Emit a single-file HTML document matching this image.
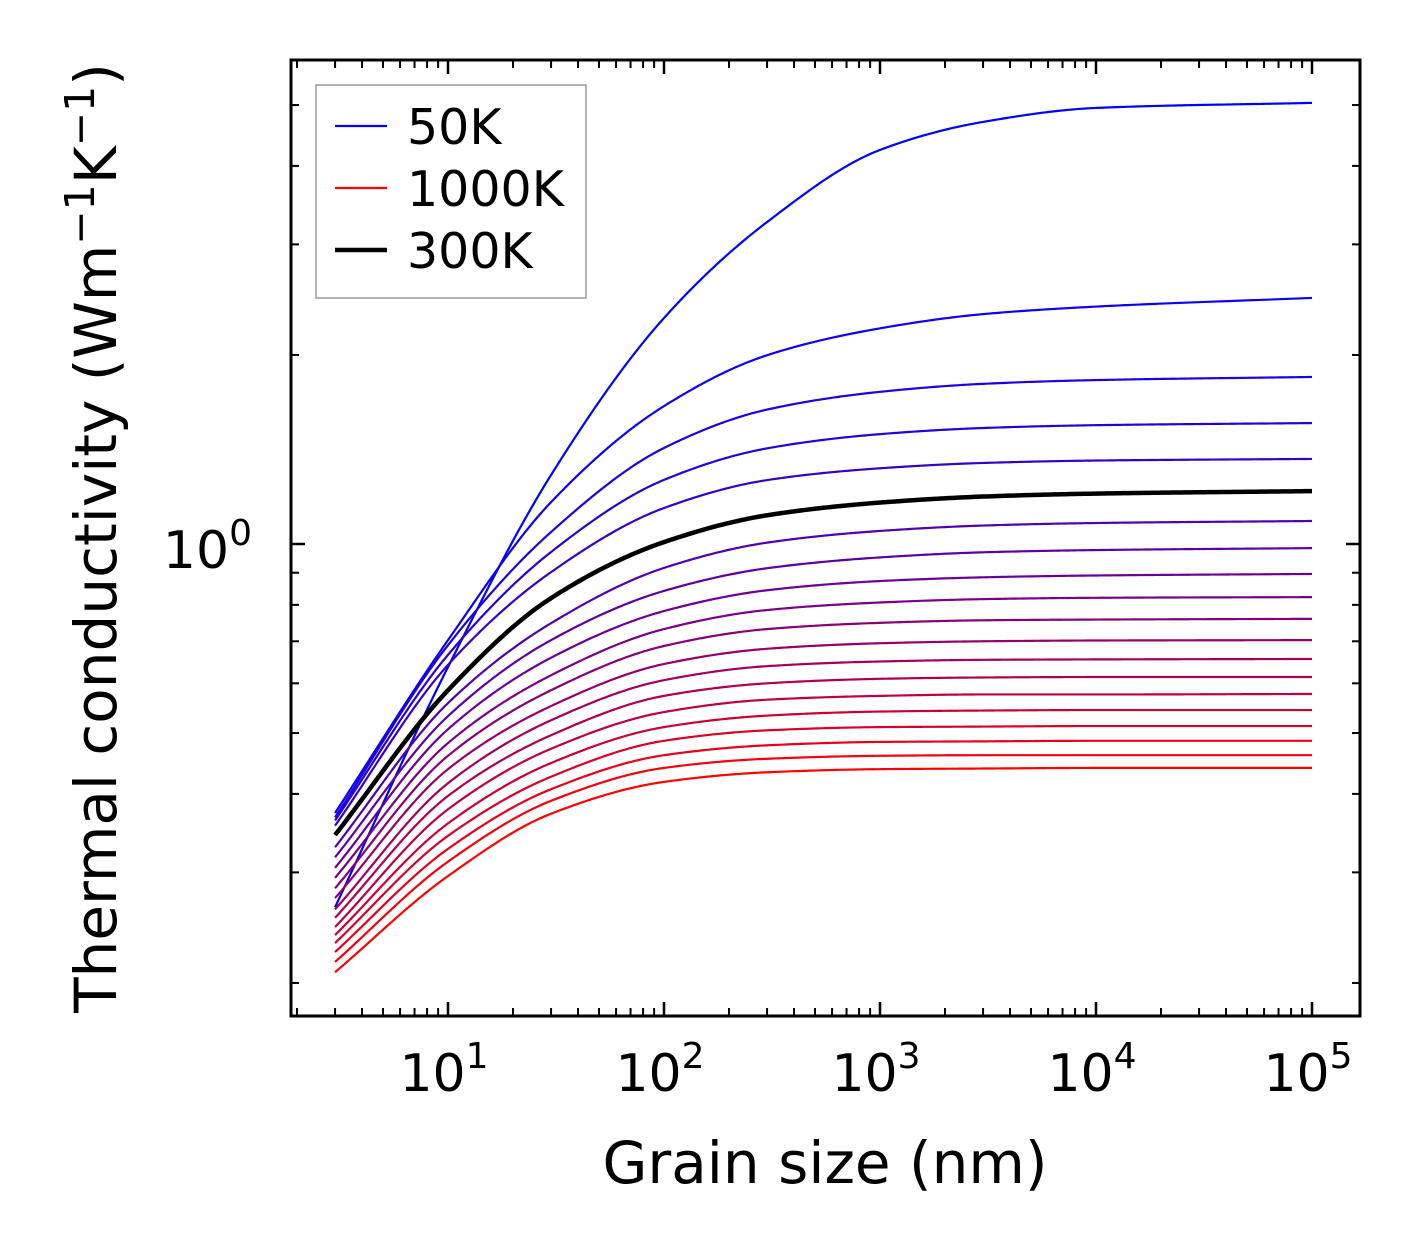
<!DOCTYPE html>
<html><head><meta charset="utf-8"><style>
html,body{margin:0;padding:0;background:#fff;}
svg{display:block;font-family:"DejaVu Sans","Liberation Sans",sans-serif;}
</style></head><body>
<svg id="chart" width="1421" height="1254" viewBox="0 0 1421 1254" xmlns="http://www.w3.org/2000/svg">
<rect x="0" y="0" width="1421" height="1254" fill="#fff"/>
<g id="curves"></g>
<g id="ticks"></g>
<rect x="291" y="60" width="1069" height="956" fill="none" stroke="#000" stroke-width="3"/>
<g id="xlabels" font-size="52" text-anchor="middle"></g>
<text x="252" y="568" font-size="52" text-anchor="end">10<tspan dy="-23" font-size="36">0</tspan></text>
<text x="825" y="1183" font-size="58" text-anchor="middle">Grain size (nm)</text>
<text transform="translate(116,538) rotate(-90)" font-size="58" text-anchor="middle">Thermal conductivity (Wm<tspan dy="-22" font-size="41">−1</tspan><tspan dy="22">K</tspan><tspan dy="-22" font-size="41">−1</tspan><tspan dy="22">)</tspan></text>
<g>
<rect x="316" y="85" width="270" height="213" fill="#fff" stroke="#999" stroke-width="1.5"/>
<line x1="335" y1="126" x2="387" y2="126" stroke="#0000ff" stroke-width="2.2"/>
<text x="407" y="144" font-size="49">50K</text>
<line x1="335" y1="188" x2="387" y2="188" stroke="#ff0000" stroke-width="2.2"/>
<text x="407" y="206" font-size="49">1000K</text>
<line x1="335" y1="250" x2="387" y2="250" stroke="#000" stroke-width="4.5"/>
<text x="407" y="268" font-size="49">300K</text>
</g>
</svg>
<script>
const grainSizes = [3, 10, 30, 100, 300, 1000, 3000, 10000, 100000];
const temperatures = [50,100,150,200,250,300,350,400,450,500,550,600,650,700,750,800,850,900,950,1000];
const k50 = [0.264, 0.637, 1.288, 2.29, 3.256, 4.241, 4.70, 4.947, 5.04];
const k100 = [0.373, 0.703, 1.166, 1.658, 1.998, 2.205, 2.323, 2.388, 2.465];
const k150 = [0.367, 0.690, 1.045, 1.422, 1.637, 1.747, 1.799, 1.824, 1.845];
const k200 = [0.363, 0.666, 0.971, 1.265, 1.420, 1.496, 1.530, 1.546, 1.558];
const k250 = [0.356, 0.642, 0.902, 1.141, 1.264, 1.320, 1.346, 1.358, 1.366];
const k300 = [0.344, 0.585, 0.820, 1.007, 1.111, 1.164, 1.190, 1.203, 1.214];
const k350 = [0.329, 0.558, 0.748, 0.916, 1.005, 1.049, 1.070, 1.080, 1.088];
const k400 = [0.317, 0.532, 0.703, 0.842, 0.915, 0.952, 0.970, 0.978, 0.985];
const k450 = [0.305, 0.507, 0.659, 0.782, 0.844, 0.873, 0.885, 0.891, 0.896];
const k500 = [0.294, 0.482, 0.618, 0.732, 0.785, 0.807, 0.817, 0.821, 0.823];
const k550 = [0.283, 0.460, 0.585, 0.688, 0.732, 0.749, 0.756, 0.758, 0.760];
const k600 = [0.273, 0.438, 0.552, 0.644, 0.681, 0.695, 0.700, 0.702, 0.703];
const k650 = [0.262, 0.416, 0.524, 0.607, 0.639, 0.650, 0.654, 0.655, 0.656];
const k700 = [0.254, 0.397, 0.496, 0.573, 0.600, 0.610, 0.613, 0.614, 0.614];
const k750 = [0.2455, 0.378, 0.472, 0.540, 0.565, 0.573, 0.576, 0.576, 0.577];
const k800 = [0.2384, 0.359, 0.448, 0.511, 0.533, 0.541, 0.543, 0.544, 0.544];
const k850 = [0.2315, 0.343, 0.426, 0.486, 0.505, 0.511, 0.512, 0.513, 0.513];
const k900 = [0.224, 0.327, 0.407, 0.461, 0.478, 0.484, 0.485, 0.486, 0.486];
const k950 = [0.216, 0.312, 0.390, 0.440, 0.455, 0.460, 0.461, 0.461, 0.461];
const k1000 = [0.208, 0.296, 0.372, 0.418, 0.433, 0.438, 0.439, 0.440, 0.440];
const series = [k50,k100,k150,k200,k250,k300,k350,k400,k450,k500,k550,k600,k650,k700,k750,k800,k850,k900,k950,k1000];
const highlightIndex = 5;
const xTickExps = [1,2,3,4,5];

const NS = "http://www.w3.org/2000/svg";
function xs(v){ return 448 + 216*(Math.log10(v) - 1); }
function ys(v){ return 544 - 628*Math.log10(v); }

function monotone(xa, ya){
  const n = xa.length, d = [], m = new Array(n);
  for(let i=0;i<n-1;i++) d.push((ya[i+1]-ya[i])/(xa[i+1]-xa[i]));
  m[0]=d[0]; m[n-1]=d[n-2];
  for(let i=1;i<n-1;i++){
    if(d[i-1]*d[i]<=0){ m[i]=0; continue; }
    const h0=xa[i]-xa[i-1], h1=xa[i+1]-xa[i];
    const w1=2*h1+h0, w2=h1+2*h0;
    m[i]=(w1+w2)/(w1/d[i-1]+w2/d[i]);
  }
  return function(x){
    let i=0; while(i<n-2 && x>xa[i+1]) i++;
    const h=xa[i+1]-xa[i], t=(x-xa[i])/h, t2=t*t, t3=t2*t;
    return (2*t3-3*t2+1)*ya[i]+(t3-2*t2+t)*h*m[i]+(-2*t3+3*t2)*ya[i+1]+(t3-t2)*h*m[i+1];
  };
}
function pathFor(vals){
  const lx = grainSizes.map(Math.log10), ly = vals.map(Math.log10);
  const f = monotone(lx, ly);
  let p = "";
  const N = 300;
  for(let j=0;j<=N;j++){
    const L = lx[0] + (lx[lx.length-1]-lx[0])*j/N;
    const v = Math.pow(10, f(L));
    p += (j?"L":"M") + xs(Math.pow(10,L)).toFixed(2) + "," + ys(v).toFixed(2);
  }
  return p;
}
const cg = document.getElementById("curves");
series.forEach((vals, i) => {
  const t = i/(series.length-1);
  const col = "rgb(" + Math.round(255*t) + ",0," + Math.round(255*(1-t)) + ")";
  const p = document.createElementNS(NS, "path");
  p.setAttribute("d", pathFor(vals));
  p.setAttribute("fill", "none");
  p.setAttribute("stroke", col);
  p.setAttribute("stroke-width", "2.2");
  
  
  cg.appendChild(p);
});
{
  const p = document.createElementNS(NS, "path");
  p.setAttribute("d", pathFor(series[highlightIndex]));
  p.setAttribute("fill", "none");
  p.setAttribute("stroke", "#000");
  p.setAttribute("stroke-width", "4.5");
  
  
  cg.appendChild(p);
}
const tg = document.getElementById("ticks");
function tick(x1,y1,x2,y2,w){
  const l = document.createElementNS(NS,"line");
  l.setAttribute("x1",x1);l.setAttribute("y1",y1);l.setAttribute("x2",x2);l.setAttribute("y2",y2);
  l.setAttribute("stroke","#000");l.setAttribute("stroke-width",w);
  
  
  tg.appendChild(l);
}
for(let e=0;e<=5;e++){
  for(let m=1;m<=9;m++){
    const v = m*Math.pow(10,e), x = xs(v);
    if(x<292||x>1359) continue;
    const len = m===1?14:8, w = m===1?2.5:2;
    tick(x,1016,x,1016-len,w); tick(x,60,x,60+len,w);
  }
}
for(let e=-1;e<=0;e++){
  for(let m=1;m<=9;m++){
    const v = m*Math.pow(10,e), y = ys(v);
    if(y<61||y>1015) continue;
    const len = m===1?14:8, w = m===1?2.5:2;
    tick(291,y,291+len,y,w); tick(1360,y,1360-len,y,w);
  }
}
const xl = document.getElementById("xlabels");
xTickExps.forEach(e => {
  const t = document.createElementNS(NS,"text");
  t.setAttribute("x", xs(Math.pow(10,e)) - 4);
  t.setAttribute("y", 1091);
  t.textContent = "10";
  const s = document.createElementNS(NS,"tspan");
  s.setAttribute("dy","-23"); s.setAttribute("font-size","36");
  s.textContent = String(e);
  t.appendChild(s);
  
  
  xl.appendChild(t);
});
</script>
</body></html>
